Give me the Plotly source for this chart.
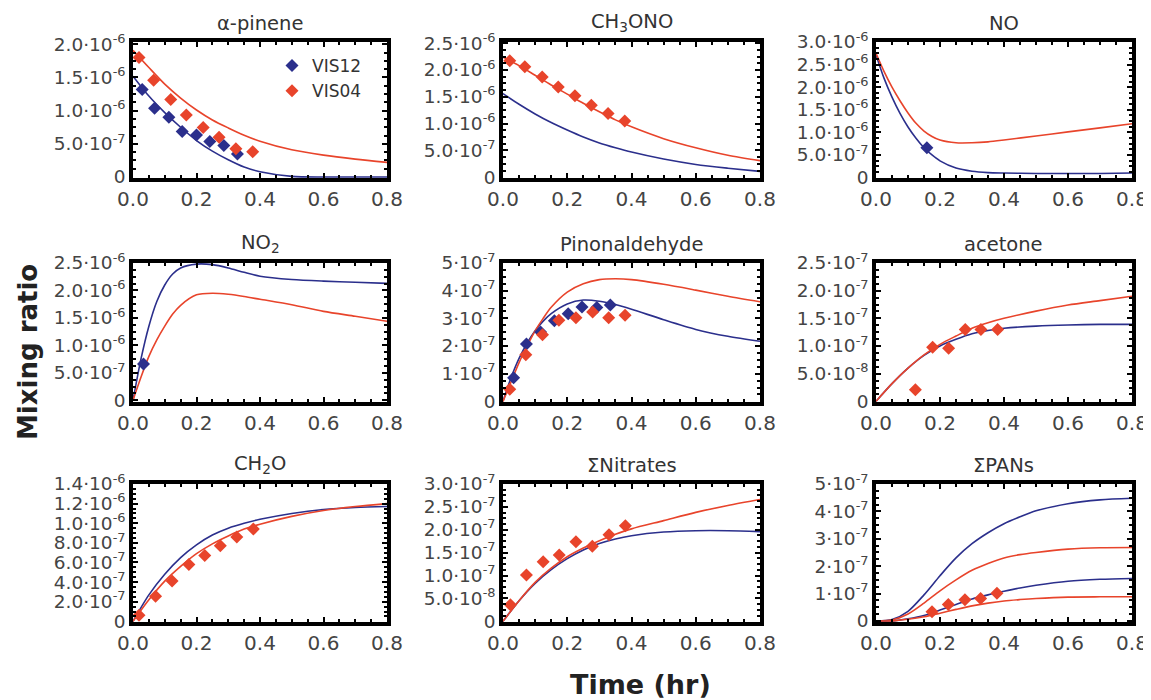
import plotly.graph_objects as go

# ---------------- data (values in units of each panel's `unit`) ----------------
t_line = [0.0, 0.05, 0.1, 0.15, 0.2, 0.25, 0.3, 0.35, 0.4, 0.5, 0.6, 0.7, 0.8]

# alpha-pinene (unit 1e-6)
ap_blue_t = [0.029, 0.068, 0.113, 0.155, 0.2, 0.242, 0.286, 0.329]
ap_blue_y = [1.32, 1.035, 0.90, 0.685, 0.635, 0.535, 0.475, 0.345]
ap_red_t = [0.019, 0.065, 0.119, 0.168, 0.221, 0.271, 0.324, 0.377]
ap_red_y = [1.80, 1.46, 1.17, 0.935, 0.745, 0.60, 0.425, 0.38]
ap_blue_line = [1.52, 1.22, 0.97, 0.75, 0.55, 0.39, 0.26, 0.15, 0.08, 0.01, 0.0, 0.0, 0.0]
ap_red_line = [1.91, 1.65, 1.40, 1.19, 1.01, 0.86, 0.74, 0.63, 0.54, 0.41, 0.33, 0.27, 0.22]

# CH3ONO (unit 1e-6)
mn_red_t = [0.021, 0.068, 0.122, 0.172, 0.224, 0.275, 0.327, 0.379]
mn_red_y = [2.17, 2.06, 1.87, 1.68, 1.52, 1.34, 1.19, 1.05]
mn_red_line = [2.24, 2.08, 1.90, 1.72, 1.55, 1.38, 1.22, 1.07, 0.94, 0.72, 0.55, 0.41, 0.31]
mn_blue_line = [1.56, 1.36, 1.18, 1.02, 0.88, 0.75, 0.64, 0.55, 0.47, 0.34, 0.24, 0.17, 0.11]

# NO (unit 1e-6)
no_t = [0.0, 0.025, 0.05, 0.075, 0.1, 0.125, 0.15, 0.175, 0.2, 0.25, 0.3, 0.35, 0.4, 0.5, 0.6, 0.7, 0.8]
no_blue_t = [0.159]
no_blue_y = [0.66]
no_blue_line = [2.72, 2.2, 1.78, 1.42, 1.12, 0.87, 0.66, 0.5, 0.37, 0.21, 0.14, 0.11, 0.1, 0.09, 0.09, 0.09, 0.1]
no_red_line = [2.75, 2.35, 2.0, 1.7, 1.43, 1.2, 1.03, 0.91, 0.83, 0.77, 0.77, 0.79, 0.83, 0.92, 1.01, 1.1, 1.19]

# NO2 (unit 1e-6)
n2_t = [0.0, 0.025, 0.05, 0.075, 0.1, 0.125, 0.15, 0.2, 0.25, 0.3, 0.35, 0.4, 0.5, 0.6, 0.7, 0.8]
n2_blue_t = [0.033]
n2_blue_y = [0.66]
n2_blue_line = [0.0, 0.75, 1.35, 1.8, 2.1, 2.3, 2.41, 2.48, 2.47, 2.41, 2.33, 2.26, 2.2, 2.17, 2.15, 2.13]
n2_red_line = [0.0, 0.42, 0.8, 1.1, 1.35, 1.57, 1.73, 1.92, 1.95, 1.93, 1.89, 1.84, 1.74, 1.62, 1.53, 1.44]

# Pinonaldehyde (unit 1e-7)
pa_t = [0.0, 0.025, 0.05, 0.075, 0.1, 0.125, 0.15, 0.2, 0.25, 0.3, 0.35, 0.4, 0.5, 0.6, 0.7, 0.8]
pa_blue_t = [0.033, 0.073, 0.117, 0.16, 0.203, 0.246, 0.292, 0.334]
pa_blue_y = [0.85, 2.07, 2.51, 2.91, 3.17, 3.41, 3.39, 3.48]
pa_red_t = [0.021, 0.071, 0.123, 0.174, 0.227, 0.279, 0.329, 0.38]
pa_red_y = [0.44, 1.68, 2.41, 2.93, 3.02, 3.23, 3.02, 3.11]
pa_blue_line = [0.0, 0.85, 1.55, 2.1, 2.55, 2.9, 3.17, 3.52, 3.66, 3.62, 3.5, 3.33, 2.95, 2.6, 2.35, 2.17]
pa_red_line = [0.0, 0.7, 1.4, 2.0, 2.55, 3.0, 3.4, 3.95, 4.25, 4.4, 4.43, 4.4, 4.23, 4.02, 3.8, 3.6]

# acetone (unit 1e-7)
ac_red_t = [0.123, 0.177, 0.227, 0.279, 0.328, 0.38]
ac_red_y = [0.21, 0.976, 0.96, 1.30, 1.30, 1.30]
ac_blue_line = [0.0, 0.32, 0.6, 0.83, 1.0, 1.12, 1.22, 1.28, 1.32, 1.36, 1.38, 1.39, 1.39]
ac_red_line = [0.0, 0.32, 0.6, 0.84, 1.03, 1.18, 1.32, 1.42, 1.5, 1.63, 1.74, 1.82, 1.9]

# CH2O (unit 1e-6)
fa_red_t = [0.019, 0.071, 0.123, 0.176, 0.226, 0.275, 0.327, 0.379]
fa_red_y = [0.061, 0.256, 0.41, 0.58, 0.67, 0.77, 0.86, 0.94]
fa_blue_line = [0.0, 0.27, 0.48, 0.65, 0.78, 0.88, 0.95, 1.0, 1.04, 1.1, 1.14, 1.16, 1.17]
fa_red_line = [0.0, 0.22, 0.41, 0.56, 0.69, 0.79, 0.87, 0.94, 0.99, 1.07, 1.13, 1.17, 1.2]

# Sum nitrates (unit 1e-7)
ni_red_t = [0.023, 0.073, 0.125, 0.175, 0.227, 0.278, 0.33, 0.381]
ni_red_y = [0.36, 1.01, 1.30, 1.45, 1.74, 1.64, 1.89, 2.09]
ni_blue_line = [0.0, 0.45, 0.83, 1.13, 1.37, 1.56, 1.7, 1.8, 1.87, 1.95, 1.98, 1.98, 1.96]
ni_red_line = [0.0, 0.45, 0.85, 1.16, 1.41, 1.6, 1.76, 1.9, 2.02, 2.2, 2.38, 2.53, 2.66]

# Sum PANs (unit 1e-7)
pn_t = [0.0, 0.05, 0.1, 0.15, 0.2, 0.25, 0.3, 0.35, 0.4, 0.45, 0.5, 0.6, 0.7, 0.8]
pn_red_t = [0.175, 0.226, 0.278, 0.327, 0.378]
pn_red_y = [0.33, 0.60, 0.77, 0.82, 1.01]
pn_blue_hi = [0.0, 0.05, 0.35, 0.95, 1.65, 2.3, 2.82, 3.22, 3.55, 3.8, 4.02, 4.28, 4.42, 4.48]
pn_red_hi = [0.0, 0.03, 0.25, 0.65, 1.1, 1.5, 1.85, 2.1, 2.3, 2.42, 2.5, 2.62, 2.67, 2.68]
pn_blue_lo = [0.0, 0.0, 0.08, 0.2, 0.4, 0.6, 0.8, 0.95, 1.08, 1.2, 1.3, 1.45, 1.52, 1.55]
pn_red_lo = [0.0, 0.0, 0.06, 0.15, 0.28, 0.42, 0.55, 0.65, 0.73, 0.78, 0.82, 0.87, 0.88, 0.88]

x_ticks = [0.0, 0.2, 0.4, 0.6, 0.8]
x_ticktext = ["0.0", "0.2", "0.4", "0.6", "0.8"]

BLUE = "#2b2f8c"
RED = "#e8442b"
FONT = "DejaVu Sans, Liberation Sans, Arial, sans-serif"


def sci(m, e):
    return f"{m}·10<sup>-{e}</sup>"


panels = [
    dict(title="α-pinene", unit=1e-6, yr=[-0.015, 2.035],
         yt=[0, 0.5, 1.0, 1.5, 2.0],
         ytt=["0", sci("5.0", 7), sci("1.0", 6), sci("1.5", 6), sci("2.0", 6)],
         lines=[(t_line, ap_blue_line, BLUE), (t_line, ap_red_line, RED)],
         pts=[(ap_blue_t, ap_blue_y, BLUE, "VIS12"), (ap_red_t, ap_red_y, RED, "VIS04")]),
    dict(title="CH<sub>3</sub>ONO", unit=1e-6, yr=[-0.0125, 2.52],
         yt=[0, 0.5, 1.0, 1.5, 2.0, 2.5],
         ytt=["0", sci("5.0", 7), sci("1.0", 6), sci("1.5", 6), sci("2.0", 6), sci("2.5", 6)],
         lines=[(t_line, mn_blue_line, BLUE), (t_line, mn_red_line, RED)],
         pts=[(mn_red_t, mn_red_y, RED, None)]),
    dict(title="NO", unit=1e-6, yr=[-0.01, 3.0],
         yt=[0, 0.5, 1.0, 1.5, 2.0, 2.5, 3.0],
         ytt=["0", sci("5.0", 7), sci("1.0", 6), sci("1.5", 6), sci("2.0", 6), sci("2.5", 6), sci("3.0", 6)],
         lines=[(no_t, no_blue_line, BLUE), (no_t, no_red_line, RED)],
         pts=[(no_blue_t, no_blue_y, BLUE, None)]),
    dict(title="NO<sub>2</sub>", unit=1e-6, yr=[-0.03, 2.5],
         yt=[0, 0.5, 1.0, 1.5, 2.0, 2.5],
         ytt=["0", sci("5.0", 7), sci("1.0", 6), sci("1.5", 6), sci("2.0", 6), sci("2.5", 6)],
         lines=[(n2_t, n2_blue_line, BLUE), (n2_t, n2_red_line, RED)],
         pts=[(n2_blue_t, n2_blue_y, BLUE, None)]),
    dict(title="Pinonaldehyde", unit=1e-7, yr=[-0.024, 5.0],
         yt=[0, 1, 2, 3, 4, 5],
         ytt=["0", sci("1", 7), sci("2", 7), sci("3", 7), sci("4", 7), sci("5", 7)],
         lines=[(pa_t, pa_blue_line, BLUE), (pa_t, pa_red_line, RED)],
         pts=[(pa_blue_t, pa_blue_y, BLUE, None), (pa_red_t, pa_red_y, RED, None)]),
    dict(title="acetone", unit=1e-7, yr=[-0.012, 2.5],
         yt=[0, 0.5, 1.0, 1.5, 2.0, 2.5],
         ytt=["0", sci("5.0", 8), sci("1.0", 7), sci("1.5", 7), sci("2.0", 7), sci("2.5", 7)],
         lines=[(t_line, ac_blue_line, BLUE), (t_line, ac_red_line, RED)],
         pts=[(ac_red_t, ac_red_y, RED, None)]),
    dict(title="CH<sub>2</sub>O", unit=1e-6, yr=[-0.007, 1.4],
         yt=[0, 0.2, 0.4, 0.6, 0.8, 1.0, 1.2, 1.4],
         ytt=["0", sci("2.0", 7), sci("4.0", 7), sci("6.0", 7), sci("8.0", 7), sci("1.0", 6), sci("1.2", 6), sci("1.4", 6)],
         lines=[(t_line, fa_blue_line, BLUE), (t_line, fa_red_line, RED)],
         pts=[(fa_red_t, fa_red_y, RED, None)]),
    dict(title="ΣNitrates", unit=1e-7, yr=[-0.015, 3.0],
         yt=[0, 0.5, 1.0, 1.5, 2.0, 2.5, 3.0],
         ytt=["0", sci("5.0", 8), sci("1.0", 7), sci("1.5", 7), sci("2.0", 7), sci("2.5", 7), sci("3.0", 7)],
         lines=[(t_line, ni_blue_line, BLUE), (t_line, ni_red_line, RED)],
         pts=[(ni_red_t, ni_red_y, RED, None)]),
    dict(title="ΣPANs", unit=1e-7, yr=[-0.04, 5.0],
         yt=[0, 1, 2, 3, 4, 5],
         ytt=["0", sci("1", 7), sci("2", 7), sci("3", 7), sci("4", 7), sci("5", 7)],
         lines=[(pn_t, pn_blue_hi, BLUE), (pn_t, pn_red_hi, RED), (pn_t, pn_blue_lo, BLUE), (pn_t, pn_red_lo, RED)],
         pts=[(pn_red_t, pn_red_y, RED, None)]),
]

# page has an 8px body margin: the figure is sized so that it fills the window
OFF = 8
W, H = 1151 - OFF, 700 - OFF
col_px = [(133, 387), (503, 760), (876, 1132)]
row_px = [(42, 178), (263, 402), (484, 622)]


def px(v):
    return (v - OFF) / W


def py(v):
    return 1 - (v - OFF) / H


fig = go.Figure()
annotations = []
layout_axes = {}
for i, p in enumerate(panels):
    r, c = divmod(i, 3)
    n = "" if i == 0 else str(i + 1)
    xa, ya = "x" + n, "y" + n
    u = p["unit"]
    for (tx, vy, col) in p["lines"]:
        fig.add_trace(go.Scatter(x=tx, y=[v * u for v in vy], mode="lines",
                                 line=dict(color=col, width=1.6, shape="spline", smoothing=0.8),
                                 xaxis=xa, yaxis=ya, showlegend=False, hoverinfo="skip"))
    for (tx, vy, col, name) in p["pts"]:
        fig.add_trace(go.Scatter(x=tx, y=[v * u for v in vy], mode="markers",
                                 marker=dict(symbol="diamond", size=10, color=col),
                                 xaxis=xa, yaxis=ya, name=name or "",
                                 showlegend=name is not None))
    x0, x1 = col_px[c]
    y0, y1 = row_px[r]
    common = dict(showline=True, linewidth=3.5, linecolor="black", mirror="ticks",
                  ticks="inside", ticklen=5, tickwidth=2, tickcolor="black",
                  showgrid=False, zeroline=False)
    yt = p["yt"]
    layout_axes["xaxis" + n] = dict(domain=[px(x0), px(x1)], anchor=ya, range=[0, 0.8],
                                    tickvals=x_ticks, ticktext=x_ticktext,
                                    tickfont=dict(size=20, color="#444", family=FONT),
                                    minor=dict(dtick=0.05, ticklen=3, tickwidth=1.5, tickcolor="black",
                                               ticks="inside", showgrid=False),
                                    **common)
    layout_axes["yaxis" + n] = dict(domain=[py(y1), py(y0)], anchor=xa,
                                    range=[v * u for v in p["yr"]],
                                    tickvals=[v * u for v in yt], ticktext=p["ytt"],
                                    tickfont=dict(size=18.5, color="#444", family=FONT),
                                    minor=dict(dtick=(yt[1] - yt[0]) * u / 4, tick0=0, ticklen=3,
                                               tickwidth=1.5, tickcolor="black", ticks="inside",
                                               showgrid=False),
                                    **common)
    annotations.append(dict(text=p["title"], x=(px(x0) + px(x1)) / 2, y=py(y0 - 5),
                            xref="paper", yref="paper", xanchor="center", yanchor="bottom",
                            showarrow=False, font=dict(size=19.5, color="#333", family=FONT)))

annotations.append(dict(text="<b>Mixing ratio</b>", x=px(28), y=py(352), xref="paper", yref="paper",
                        textangle=-90, showarrow=False, xanchor="center", yanchor="middle",
                        font=dict(size=26, color="#222", family=FONT)))
annotations.append(dict(text="<b>Time (hr)</b>", x=px(640), y=py(684), xref="paper", yref="paper",
                        showarrow=False, xanchor="center", yanchor="middle",
                        font=dict(size=27, color="#222", family=FONT)))

fig.update_layout(width=W, height=H, margin=dict(l=0, r=0, t=0, b=0, autoexpand=False),
                  paper_bgcolor="white", plot_bgcolor="white",
                  annotations=annotations,
                  legend=dict(x=px(272), y=py(48), xanchor="left", yanchor="top",
                              bgcolor="rgba(0,0,0,0)", font=dict(size=17, color="#333", family=FONT),
                              tracegroupgap=0, itemwidth=30),
                  **layout_axes)
fig.write_html("out.html")
